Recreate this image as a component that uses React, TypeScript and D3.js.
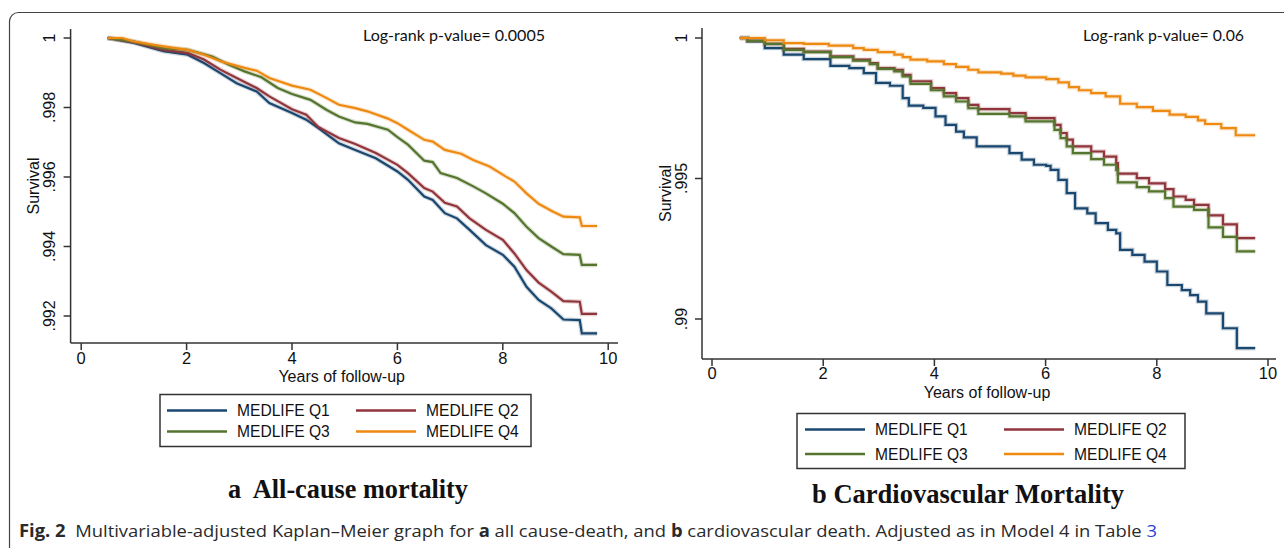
import * as d3 from "d3";

// Kaplan-Meier readings: [years, survival]
const allCauseQ1: [number, number][] = [
  [0.5, 1], [1.0, 0.99986], [1.56, 0.99962], [2.02, 0.99952], [2.33, 0.99928], [2.64, 0.99899],
  [2.95, 0.9987], [3.33, 0.99846], [3.57, 0.99813], [4.0, 0.99784], [4.27, 0.99765], [4.5, 0.99741],
  [4.89, 0.99697], [5.2, 0.99678], [5.59, 0.99654], [6.0, 0.99616], [6.2, 0.99592], [6.51, 0.99544],
  [6.67, 0.99534], [6.9, 0.99496], [7.13, 0.99481], [7.37, 0.99448], [7.68, 0.99404], [8.0, 0.99376],
  [8.22, 0.99342], [8.45, 0.99284], [8.68, 0.99246], [8.92, 0.99222], [9.15, 0.9919], [9.46, 0.99188],
  [9.5, 0.9915], [9.79, 0.9915],
];
const allCauseQ2: [number, number][] = [
  [0.5, 1], [1.0, 0.99988], [1.56, 0.99966], [2.02, 0.99957], [2.33, 0.99938], [2.64, 0.99909],
  [2.95, 0.99885], [3.33, 0.99856], [3.57, 0.99832], [4.0, 0.99795], [4.27, 0.99779], [4.5, 0.99744],
  [4.89, 0.99712], [5.2, 0.99695], [5.59, 0.99669], [6.0, 0.99635], [6.2, 0.99611], [6.51, 0.99568],
  [6.67, 0.99558], [6.9, 0.99526], [7.13, 0.99515], [7.37, 0.99481], [7.68, 0.99448], [8.0, 0.99419],
  [8.22, 0.9938], [8.45, 0.99332], [8.68, 0.99296], [8.92, 0.9927], [9.15, 0.99243], [9.46, 0.99241],
  [9.5, 0.99206], [9.79, 0.99206],
];
const allCauseQ3: [number, number][] = [
  [0.5, 1], [1.0, 0.9999], [1.56, 0.99971], [2.02, 0.99966], [2.49, 0.99947], [2.8, 0.99923],
  [3.1, 0.99904], [3.42, 0.99887], [3.73, 0.99856], [4.0, 0.99839], [4.35, 0.99822], [4.66, 0.99793],
  [4.89, 0.99774], [5.2, 0.99757], [5.43, 0.99753], [5.82, 0.99736], [6.0, 0.99715], [6.2, 0.99693],
  [6.51, 0.99647], [6.67, 0.99643], [6.82, 0.99611], [7.13, 0.99597], [7.44, 0.99573], [7.68, 0.99553],
  [8.0, 0.99523], [8.22, 0.99496], [8.45, 0.99457], [8.68, 0.99424], [8.92, 0.994], [9.15, 0.99378],
  [9.46, 0.99376], [9.5, 0.99347], [9.79, 0.99347],
];
const allCauseQ4: [number, number][] = [
  [0.5, 1], [0.78, 1], [1.0, 0.9999], [1.56, 0.99976], [2.02, 0.99966], [2.33, 0.99952], [2.64, 0.99933],
  [3.1, 0.99914], [3.33, 0.99906], [3.57, 0.99885], [4.0, 0.99863], [4.35, 0.99851], [4.66, 0.99827],
  [4.89, 0.99808], [5.2, 0.99798], [5.43, 0.99789], [5.82, 0.99768], [6.0, 0.99755], [6.2, 0.99736],
  [6.51, 0.99707], [6.67, 0.99702], [6.9, 0.99678], [7.21, 0.99667], [7.44, 0.99649], [7.75, 0.9963],
  [8.06, 0.99601], [8.22, 0.99587], [8.45, 0.99553], [8.68, 0.99523], [8.92, 0.99503], [9.15, 0.99486],
  [9.46, 0.99484], [9.5, 0.99459], [9.79, 0.99459],
];

const cvdQ1: [number, number][] = [
  [0.5, 1], [0.64, 0.99988], [0.95, 0.99964], [1.29, 0.99941], [1.65, 0.99925], [2.13, 0.99901],
  [2.47, 0.99893], [2.73, 0.99875], [2.95, 0.9984], [3.2, 0.9983], [3.43, 0.99786], [3.54, 0.99759],
  [3.8, 0.99751], [4.02, 0.99721], [4.2, 0.99691], [4.39, 0.99667], [4.53, 0.99646], [4.76, 0.99614],
  [5.35, 0.9959], [5.57, 0.99567], [5.79, 0.99549], [6.01, 0.99545], [6.09, 0.99531], [6.23, 0.99495],
  [6.38, 0.99448], [6.53, 0.99394], [6.75, 0.99376], [6.9, 0.99341], [7.12, 0.99317], [7.27, 0.99305],
  [7.34, 0.99246], [7.56, 0.99228], [7.78, 0.99204], [8.0, 0.99169], [8.19, 0.99121], [8.45, 0.99103],
  [8.6, 0.99085], [8.74, 0.99062], [8.89, 0.9902], [9.19, 0.98967], [9.44, 0.98896], [9.77, 0.98896],
];
const cvdQ2: [number, number][] = [
  [0.5, 1], [0.64, 0.9999], [0.95, 0.99979], [1.29, 0.99961], [1.65, 0.99952], [2.13, 0.99935],
  [2.54, 0.99923], [2.84, 0.99911], [2.98, 0.99893], [3.28, 0.99887], [3.43, 0.99869], [3.57, 0.99846],
  [3.94, 0.99822], [4.17, 0.99804], [4.39, 0.99786], [4.61, 0.99762], [4.79, 0.99747], [5.35, 0.99733],
  [5.64, 0.99715], [6.16, 0.99691], [6.27, 0.99662], [6.38, 0.99638], [6.49, 0.99614], [6.82, 0.99596],
  [7.05, 0.99578], [7.27, 0.99555], [7.3, 0.99517], [7.64, 0.99501], [7.86, 0.99483], [8.15, 0.99462],
  [8.3, 0.99436], [8.52, 0.99424], [8.67, 0.99406], [8.93, 0.99369], [9.19, 0.99337], [9.44, 0.99288],
  [9.77, 0.99288],
];
const cvdQ3: [number, number][] = [
  [0.5, 1], [0.64, 0.9999], [0.95, 0.99979], [1.29, 0.99958], [1.65, 0.9995], [2.13, 0.99932],
  [2.54, 0.99919], [2.84, 0.99907], [2.98, 0.9989], [3.28, 0.99881], [3.43, 0.99863], [3.57, 0.99837],
  [3.94, 0.99814], [4.17, 0.99792], [4.39, 0.99774], [4.61, 0.9975], [4.79, 0.9973], [5.35, 0.99721],
  [5.64, 0.99703], [6.16, 0.99673], [6.27, 0.99644], [6.38, 0.99614], [6.49, 0.9959], [6.82, 0.99569],
  [7.05, 0.99549], [7.27, 0.99531], [7.3, 0.99486], [7.64, 0.99469], [7.86, 0.99454], [8.15, 0.9943],
  [8.3, 0.994], [8.67, 0.99388], [8.93, 0.99326], [9.19, 0.99292], [9.44, 0.99241], [9.77, 0.99241],
];
const cvdQ4: [number, number][] = [
  [0.5, 1], [0.95, 0.99992], [1.29, 0.99982], [1.65, 0.99979], [2.1, 0.99973], [2.54, 0.99964],
  [2.73, 0.99958], [2.98, 0.9995], [3.28, 0.99941], [3.43, 0.99932], [3.57, 0.99923], [3.87, 0.99917],
  [4.17, 0.99907], [4.39, 0.99897], [4.61, 0.99887], [4.79, 0.99878], [5.2, 0.99873], [5.42, 0.99866],
  [5.64, 0.9986], [6.01, 0.99854], [6.23, 0.99842], [6.42, 0.99825], [6.6, 0.99814], [6.82, 0.99804],
  [7.08, 0.99792], [7.34, 0.99766], [7.64, 0.99754], [7.93, 0.99741], [8.23, 0.99727], [8.52, 0.99719],
  [8.74, 0.99707], [8.87, 0.99694], [9.16, 0.99679], [9.42, 0.99654], [9.77, 0.99654],
];

const seriesNames = ["MEDLIFE Q1", "MEDLIFE Q2", "MEDLIFE Q3", "MEDLIFE Q4"];
const seriesColors = ["#1a476f", "#90353b", "#55752f", "#ee8a12"];

const yearTicks = [0, 2, 4, 6, 8, 10];
const allCauseTicks = [1, 0.998, 0.996, 0.994, 0.992];
const allCauseTickLabels = ["1", ".998", ".996", ".994", ".992"];
const cvdTicks = [1, 0.995, 0.99];
const cvdTickLabels = ["1", ".995", ".99"];

const AXIS = "#333";
const SANS = "'Liberation Sans', Arial, sans-serif";
const SERIF = "'Liberation Serif', 'Times New Roman', serif";

type PanelProps = {
  series: [number, number][][];
  xRange: [number, number];
  axisX: [number, number];
  yDomain: [number, number];
  yRange: [number, number];
  axisY: [number, number];
  yTicks: number[];
  yLabels: string[];
  step: boolean;
  pText: string;
  pX: number;
  pWidth: number;
  tickLabelY: number;
  titleY: number;
  ylabX: number;
  tickLabX: number;
};

function Panel(p: PanelProps) {
  const x = d3.scaleLinear().domain([0, 10]).range(p.xRange);
  const y = d3.scaleLinear().domain(p.yDomain).range(p.yRange);
  const line = d3
    .line<[number, number]>()
    .x((d) => x(d[0]))
    .y((d) => y(d[1]))
    .curve(p.step ? d3.curveStepAfter : d3.curveLinear);
  const [x0, x1] = p.axisX;
  const [yTop, yBot] = p.axisY;
  const midY = (yTop + yBot) / 2;
  return (
    <g>
      {p.series.map((s, i) => (
        <g key={i}>
          <path d={line(s) ?? ""} fill="none" stroke={seriesColors[i]} strokeOpacity={0.22} strokeWidth={4.5} />
          <path d={line(s) ?? ""} fill="none" stroke={seriesColors[i]} strokeWidth={2.2} />
        </g>
      ))}
      {/* y axis */}
      <line x1={x0} x2={x0} y1={yTop} y2={yBot} stroke={AXIS} strokeWidth={1.5} />
      {p.yTicks.map((t, i) => (
        <g key={t}>
          <line x1={x0 - 7} x2={x0} y1={y(t)} y2={y(t)} stroke={AXIS} strokeWidth={1.5} />
          <text
            transform={`translate(${p.tickLabX},${y(t)}) rotate(-90)`}
            textAnchor="middle"
            fontFamily={SANS}
            fontSize={16}
            fill="#111"
          >
            {p.yLabels[i]}
          </text>
        </g>
      ))}
      <text
        transform={`translate(${p.ylabX},${midY}) rotate(-90)`}
        textAnchor="middle"
        fontFamily={SANS}
        fontSize={16}
        fill="#111"
      >
        Survival
      </text>
      {/* x axis */}
      <line x1={x0} x2={x1} y1={yBot} y2={yBot} stroke={AXIS} strokeWidth={1.5} />
      {yearTicks.map((t) => (
        <g key={t}>
          <line x1={x(t)} x2={x(t)} y1={yBot} y2={yBot + 7} stroke={AXIS} strokeWidth={1.5} />
          <text x={x(t)} y={p.tickLabelY} textAnchor="middle" fontFamily={SANS} fontSize={16.5} fill="#111">
            {t}
          </text>
        </g>
      ))}
      <text x={x(5) - 3} y={p.titleY} textAnchor="middle" fontFamily={SANS} fontSize={16} fill="#111">
        Years of follow-up
      </text>
      <text
        x={p.pX}
        y={41}
        fontFamily="Lato, 'Open Sans', sans-serif"
        fontSize={15}
        fill="#111"
        textLength={p.pWidth}
        lengthAdjust="spacingAndGlyphs"
      >
        {p.pText}
      </text>
    </g>
  );
}

function Legend({ x, y, w, h, rowY, cols }: { x: number; y: number; w: number; h: number; rowY: number[]; cols: number[] }) {
  return (
    <g>
      <rect x={x} y={y} width={w} height={h} fill="#fff" stroke="#333" strokeWidth={1.5} />
      {seriesNames.map((name, i) => {
        const cx = cols[i % 2];
        const cy = rowY[Math.floor(i / 2)];
        return (
          <g key={name}>
            <line x1={cx} x2={cx + 60} y1={cy} y2={cy} stroke={seriesColors[i]} strokeWidth={2.6} />
            <text x={cx + 70} y={cy + 5.5} fontFamily={SANS} fontSize={15.6} fill="#111">
              {name}
            </text>
          </g>
        );
      })}
    </g>
  );
}

export default function App() {
  return (
    <svg width={1284} height={548} style={{ position: "absolute", left: 0, top: 0, background: "#fff" }}>
      <rect x={9.5} y={12.5} width={1320} height={580} rx={9} fill="none" stroke="#444" strokeWidth={1.2} />

      <Panel
        series={[allCauseQ1, allCauseQ2, allCauseQ3, allCauseQ4]}
        xRange={[81.2, 608.2]}
        axisX={[70.6, 618]}
        yDomain={[0.992, 1]}
        yRange={[316, 38]}
        axisY={[29, 343]}
        yTicks={allCauseTicks}
        yLabels={allCauseTickLabels}
        step={false}
        pText="Log-rank p-value= 0.0005"
        pX={363}
        pWidth={182}
        tickLabelY={364}
        titleY={382}
        ylabX={39}
        tickLabX={55}
      />
      <Panel
        series={[cvdQ1, cvdQ2, cvdQ3, cvdQ4]}
        xRange={[712, 1268]}
        axisX={[702, 1276]}
        yDomain={[0.99, 1]}
        yRange={[319, 38]}
        axisY={[28, 359]}
        yTicks={cvdTicks}
        yLabels={cvdTickLabels}
        step={true}
        pText="Log-rank p-value= 0.06"
        pX={1083}
        pWidth={161}
        tickLabelY={379}
        titleY={398}
        ylabX={671}
        tickLabX={687}
      />

      <Legend x={160} y={394.5} w={371} h={52} rowY={[410.5, 431.5]} cols={[167, 356]} />
      <Legend x={797} y={413.5} w={388} h={55} rowY={[429.5, 454]} cols={[805, 1004]} />

      <text
        x={348}
        y={498}
        textAnchor="middle"
        fontFamily={SERIF}
        fontWeight={700}
        fontSize={27}
        fill="#111"
        textLength={240}
        lengthAdjust="spacingAndGlyphs"
        style={{ whiteSpace: "pre" }}
      >
        {"a  All-cause mortality"}
      </text>
      <text
        x={968}
        y={503}
        textAnchor="middle"
        fontFamily={SERIF}
        fontWeight={700}
        fontSize={27}
        fill="#111"
        textLength={312}
        lengthAdjust="spacingAndGlyphs"
      >
        b Cardiovascular Mortality
      </text>

      <text
        x={19}
        y={537}
        fontFamily="'Open Sans', 'Noto Sans', sans-serif"
        fontSize={17}
        fill="#2a2a2a"
        textLength={1138}
        lengthAdjust="spacingAndGlyphs"
        style={{ whiteSpace: "pre" }}
      >
        <tspan fontWeight={700}>Fig. 2</tspan>
        {"  Multivariable-adjusted Kaplan–Meier graph for "}
        <tspan fontWeight={700}>a</tspan>
        {" all cause-death, and "}
        <tspan fontWeight={700}>b</tspan>
        {" cardiovascular death. Adjusted as in Model 4 in Table "}
        <tspan fill="#2a3fd9">3</tspan>
      </text>
    </svg>
  );
}
